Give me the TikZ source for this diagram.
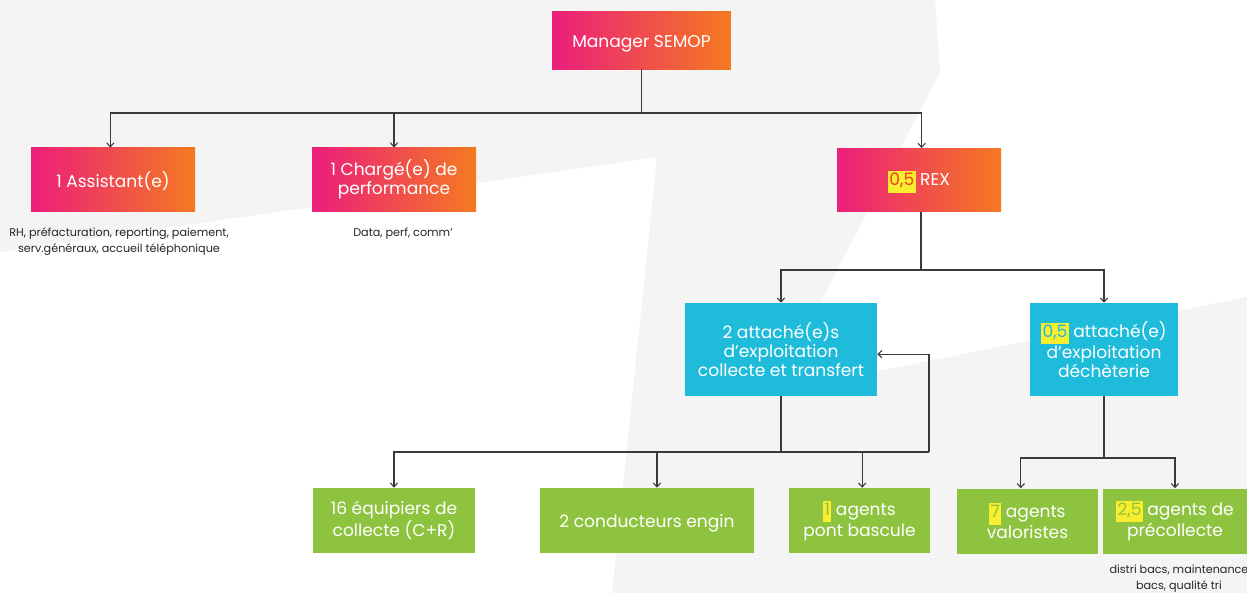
\documentclass[tikz,border=0pt]{standalone}
\usepackage{fontspec}
\setmainfont{Poppins}
\usepackage{xcolor}
\usetikzlibrary{arrows.meta,positioning,calc}
\definecolor{mgrpink}{HTML}{EC1E7C}
\definecolor{mgrred}{HTML}{EE4125}
\definecolor{mgrorange}{HTML}{F47A20}
\definecolor{attcyan}{HTML}{1EBBDB}
\definecolor{agentgreen}{HTML}{8DC33F}
\definecolor{markyellow}{HTML}{F8EE2F}
\definecolor{bggray}{HTML}{F4F4F4}
\definecolor{wiregray}{HTML}{3A3A3A}
\newcommand{\hlnum}[2]{{\setlength{\fboxsep}{1pt}\colorbox{markyellow}{\strut\textcolor{#1}{#2}}}}

\begin{document}
\begin{tikzpicture}[x=0.75pt,y=-0.75pt,
    orgbox/.style={text=white,align=center,inner sep=2pt,
                   font=\fontsize{12.8}{14.2}\selectfont},
    lowtext/.style={execute at begin node={\rule{0pt}{14pt}}},
    topbox/.style={orgbox,lowtext,left color=mgrpink,middle color=mgrred,
                   right color=mgrorange,minimum width=123pt,minimum height=47.5pt},
    attbox/.style={orgbox,fill=attcyan,minimum height=69.75pt},
    agentbox/.style={orgbox,lowtext,fill=agentgreen,minimum height=48.75pt},
    note/.style={text=black!85,align=center,font=\fontsize{8.4}{12}\selectfont},
    wire/.style={draw=wiregray,line width=0.8pt},
    arr/.style={wire,-{Straight Barb[length=3pt,width=5.5pt]}}]
  \useasboundingbox (0,0) rectangle (1247,593);
  % backdrop
  \fill[white] (0,0) rectangle (1247,593);
  \fill[bggray] (0,0) -- (935,0) -- (940,72) -- (774,392) -- (1247,297)
    -- (1247,593) -- (612,593) -- (657,157) -- (0,252) -- cycle;

  % head and first level
  \node[topbox,minimum width=134pt,minimum height=43.5pt] (mgr) at (641.5,40) {Manager SEMOP};
  \node[topbox] (asst) at (113,179.5) {1 Assistant(e)};
  \node[topbox] (perf) at (394,179.5) {1 Chargé(e) de\\performance};
  \node[topbox] (rex) at (919,180) {\hlnum{mgrred}{0,5} REX};
  \node[note] (asstnote) at (119,241.5) {RH, préfacturation, reporting, paiement,\\serv.généraux,  accueil téléphonique};
  \node[note] (perfnote) at (403,233.5) {Data, perf, comm’};

  % attachés
  \node[attbox,minimum width=144pt] (attcol) at (781,349.5)
       {2 attaché(e)s\\d’exploitation\\collecte et transfert};
  \node[attbox,minimum width=111pt] (attdech) at (1104,349.5)
       {\hlnum{attcyan}{0,5} attaché(e)\\d’exploitation\\déchèterie};

  % agents
  \node[agentbox,minimum width=121.5pt] (equip) at (394,520.5) {16 équipiers de\\collecte (C+R)};
  \node[agentbox,minimum width=160.5pt] (cond) at (647,520.5) {2 conducteurs engin};
  \node[agentbox,minimum width=105.75pt] (pont) at (859.5,520.5) {\hlnum{agentgreen}{1} agents\\pont bascule};
  \node[agentbox,minimum width=105.75pt] (valo) at (1027.5,521) {\hlnum{agentgreen}{7} agents\\valoristes};
  \node[agentbox,minimum width=108pt] (precol) at (1175,521) {\hlnum{agentgreen}{2,5} agents de\\précollecte};
  \node[note] (precolnote) at (1179,579) {distri bacs, maintenance\\bacs, qualité tri};

  % connectors
  \coordinate (topbar) at (641.5,113);
  \draw[wire] (mgr) -- (topbar);
  \draw[arr] (topbar) -| ([xshift=-2pt]asst.north);
  \draw[arr] (topbar) -| (perf);
  \draw[arr] (topbar) -| ([xshift=2pt]rex.north);

  \coordinate (rexbar) at (921,270);
  \draw[wire] ([xshift=1.5pt]rex.south) -- (rexbar);
  \draw[arr] (rexbar) -| (attcol);
  \draw[arr] (rexbar) -| (attdech);

  \coordinate (colbar) at (781,452);
  \coordinate (loop) at (929,452);
  \draw[wire] (attcol) -- (colbar);
  \draw[arr] (colbar) -| (equip);
  \draw[arr] (colbar) -| ([xshift=7.5pt]cond.north);
  \draw[arr] (colbar) -| ([xshift=2pt]pont.north);
  \draw[wire] (colbar) -- (loop);
  \draw[arr] (loop) |- ([yshift=-3.5pt]attcol.east);

  \coordinate (dechbar) at (1104,458);
  \draw[wire] (attdech) -- (dechbar);
  \draw[arr] (dechbar) -| ([xshift=-5pt]valo.north);
  \draw[arr] (dechbar) -| (precol);
\end{tikzpicture}
\end{document}
